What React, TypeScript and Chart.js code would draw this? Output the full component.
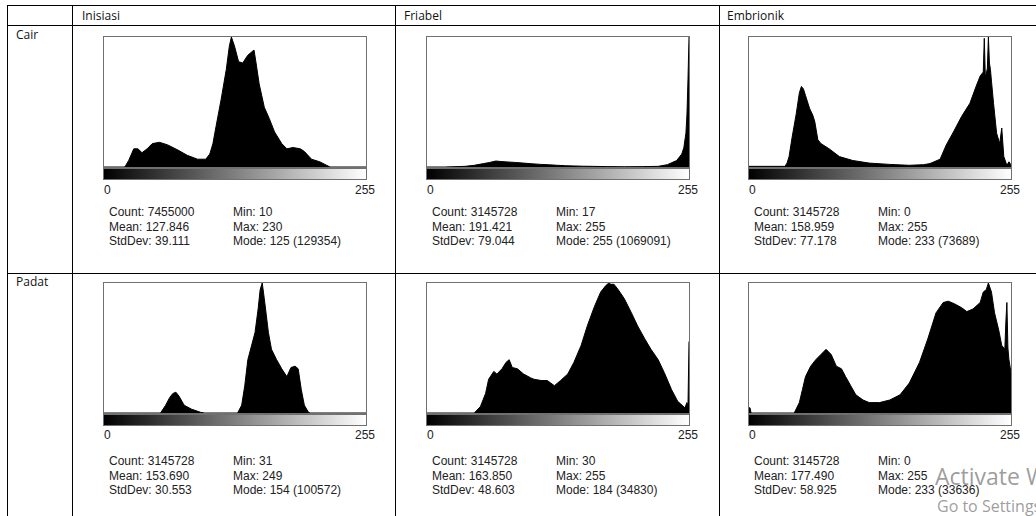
import React, { useEffect, useRef } from 'react';
import { Chart, registerables } from 'chart.js';

Chart.register(...registerables);

const COLUMNS = ['Inisiasi', 'Friabel', 'Embrionik'];
const ROWS = ['Cair', 'Padat'];
const AXIS_MIN_LABEL = '0';
const AXIS_MAX_LABEL = '255';

// Inisiasi – Cair (grey level, height as % of mode count)
const IC_BINS = [0, 20, 21, 24, 29, 33, 37, 42, 47, 54, 62, 72, 81, 91, 99, 103, 106, 109, 114, 119, 122, 124, 127, 131, 135, 140, 146, 148, 151, 156, 161, 166, 173, 178, 184, 191, 195, 202, 210, 215, 220, 255];
const IC_HEIGHT = [0, 0, 1, 5, 14, 14, 11, 14, 18, 19, 17, 13, 9, 6, 6, 10, 18, 31, 52, 75, 93, 100, 93, 81, 80, 86, 90, 80, 64, 46, 37, 27, 18, 14, 15, 14, 12, 6, 4, 2, 0, 0];

// Friabel – Cair
const FC_BINS = [0, 17, 37, 46, 55, 61, 67, 72, 78, 86, 94, 102, 111, 119, 127, 135, 143, 152, 161, 176, 192, 210, 225, 234, 243, 248, 250, 252, 253, 254, 255];
const FC_HEIGHT = [0, 0, 0.5, 1.3, 2.6, 3.5, 4.6, 4.2, 3.9, 3.5, 3, 2.5, 2, 1.7, 1.3, 1, 0.8, 0.6, 0.5, 0.3, 0.2, 0.3, 0.5, 1.8, 5, 10, 15, 26, 40, 67, 100];

// Embrionik – Cair
const EC_BINS = [0, 35, 37, 39, 42, 46, 49, 51, 53, 55, 59, 62, 64, 67, 70, 78, 88, 101, 117, 137, 156, 170, 176, 186, 192, 199, 207, 215, 221, 225, 228, 229, 230, 231, 232, 233, 234, 235, 236, 238, 241, 244, 246, 248, 251, 253, 254, 255];
const EC_HEIGHT = [0.5, 0.5, 3, 8, 23, 41, 57, 62, 60, 55, 45, 40, 35, 21, 18, 14, 8, 5, 3, 2, 1.3, 1.8, 2.6, 6, 17, 27, 39, 49, 62, 70, 73, 99, 70, 72, 76, 100, 80, 75, 66, 49, 26, 18, 30, 8, 1.3, 4, 3, 0];

// Inisiasi – Padat
const IP_BINS = [0, 55, 60, 64, 67, 70, 73, 78, 85, 94, 98, 130, 134, 137, 140, 143, 147, 150, 152, 154, 156, 160, 163, 168, 173, 178, 182, 186, 189, 192, 195, 199, 201, 255];
const IP_HEIGHT = [0, 0, 6, 12, 15, 16, 13, 6, 3, 0.5, 0, 0, 6, 21, 41, 50, 62, 80, 95, 100, 88, 62, 49, 41, 34, 28, 35, 36, 34, 18, 6, 0.5, 0, 0];

// Friabel – Padat
const FP_BINS = [0, 46, 52, 57, 60, 65, 68, 73, 77, 80, 83, 88, 94, 101, 104, 111, 117, 124, 130, 137, 143, 150, 156, 163, 169, 174, 177, 179, 182, 186, 192, 199, 205, 212, 218, 225, 231, 238, 244, 251, 253, 254, 255];
const FP_HEIGHT = [0, 0, 5, 15, 26, 32, 30, 34, 39, 41, 35, 34, 30, 27, 26, 25, 25, 21, 25, 30, 39, 52, 67, 82, 93, 98, 100, 99, 99, 95, 88, 77, 67, 57, 49, 41, 31, 18, 9, 4, 8, 5, 55];

// Embrionik – Padat
const EP_BINS = [0, 1, 2, 3, 44, 49, 52, 55, 60, 65, 70, 75, 80, 85, 90, 94, 99, 104, 111, 117, 127, 137, 147, 156, 166, 174, 182, 189, 194, 200, 207, 212, 218, 225, 228, 231, 233, 236, 239, 243, 246, 249, 250, 251, 252, 253, 255];
const EP_HEIGHT = [4, 4, 0, 0, 0, 8, 18, 28, 36, 41, 45, 49, 45, 36, 34, 28, 21, 14, 10, 8, 8, 10, 14, 23, 39, 57, 77, 85, 86, 84, 81, 78, 80, 85, 93, 95, 100, 93, 77, 64, 52, 49, 70, 85, 50, 41, 31];

// Statistics text per row (Cair, Padat) and column (Inisiasi, Friabel, Embrionik)
const COUNTS = [['7455000', '3145728', '3145728'], ['3145728', '3145728', '3145728']];
const MEANS = [['127.846', '191.421', '158.959'], ['153.690', '163.850', '177.490']];
const STDDEVS = [['39.111', '79.044', '77.178'], ['30.553', '48.603', '58.925']];
const MINS = [['10', '17', '0'], ['31', '30', '0']];
const MAXS = [['230', '255', '255'], ['249', '255', '255']];
const MODES = [['125 (129354)', '255 (1069091)', '233 (73689)'], ['154 (100572)', '184 (34830)', '233 (33636)']];

const SERIES = [
  [[IC_BINS, IC_HEIGHT], [FC_BINS, FC_HEIGHT], [EC_BINS, EC_HEIGHT]],
  [[IP_BINS, IP_HEIGHT], [FP_BINS, FP_HEIGHT], [EP_BINS, EP_HEIGHT]],
];

// layout (pixels)
const BOX_LEFT = [103, 426, 748];
const BOX_TOP = [36, 282];
const LABEL_TOP = [184, 429];
const STATS_TOP = [206, 455];
const STATS_STEP = 14.5;
const ROW_LABEL_TOP = [29, 276];

const STATS_FONT = '"Liberation Sans", Arial, sans-serif';
const TABLE_FONT = '"Open Sans", "Noto Sans", sans-serif';

function Histogram({ bins, heights }: { bins: number[]; heights: number[] }) {
  const ref = useRef<HTMLCanvasElement>(null);
  useEffect(() => {
    const chart = new Chart(ref.current as HTMLCanvasElement, {
      type: 'line',
      data: {
        datasets: [
          {
            data: bins.map((b, i) => ({ x: b, y: heights[i] })),
            fill: 'origin',
            backgroundColor: '#000000',
            borderColor: '#000000',
            borderWidth: 1,
            pointRadius: 0,
            tension: 0,
          },
        ],
      },
      options: {
        animation: false,
        responsive: false,
        devicePixelRatio: 1,
        events: [],
        layout: { padding: 0 },
        plugins: { legend: { display: false }, tooltip: { enabled: false }, title: { display: false } },
        scales: {
          x: { type: 'linear', min: 0, max: 255, display: false },
          y: { type: 'linear', min: 0, max: 100, display: false },
        },
      },
    } as any);
    return () => chart.destroy();
  }, []);
  return <canvas ref={ref} width={262} height={130} style={{ display: 'block' }} />;
}

function Panel({ r, c }: { r: number; c: number }) {
  const left = BOX_LEFT[c];
  const top = BOX_TOP[r];
  const [bins, heights] = SERIES[r][c];
  const txt: React.CSSProperties = {
    position: 'absolute',
    fontFamily: STATS_FONT,
    fontSize: 12,
    lineHeight: '12px',
    color: '#222',
    whiteSpace: 'nowrap',
  };
  const st = STATS_TOP[r];
  return (
    <>
      <div
        style={{
          position: 'absolute',
          left,
          top,
          width: 264,
          height: 132,
          border: '1px solid #707070',
          boxSizing: 'border-box',
          background: '#fff',
        }}
      >
        <Histogram bins={bins} heights={heights} />
      </div>
      <div
        style={{
          position: 'absolute',
          left,
          top: top + 132,
          width: 264,
          height: 12,
          border: '1px solid #707070',
          boxSizing: 'border-box',
          background: 'linear-gradient(to right, #000000, #ffffff)',
        }}
      />
      <div style={{ ...txt, left: left + 1, top: LABEL_TOP[r] }}>{AXIS_MIN_LABEL}</div>
      <div style={{ ...txt, left: left + 212, top: LABEL_TOP[r], width: 60, textAlign: 'right' }}>{AXIS_MAX_LABEL}</div>
      <div style={{ ...txt, left: left + 6, top: st }}>Count: {COUNTS[r][c]}</div>
      <div style={{ ...txt, left: left + 6, top: st + STATS_STEP }}>Mean: {MEANS[r][c]}</div>
      <div style={{ ...txt, left: left + 6, top: st + 2 * STATS_STEP }}>StdDev: {STDDEVS[r][c]}</div>
      <div style={{ ...txt, left: left + 130, top: st }}>Min: {MINS[r][c]}</div>
      <div style={{ ...txt, left: left + 130, top: st + STATS_STEP }}>Max: {MAXS[r][c]}</div>
      <div style={{ ...txt, left: left + 130, top: st + 2 * STATS_STEP }}>Mode: {MODES[r][c]}</div>
    </>
  );
}

export default function App() {
  const line = (l: number, t: number, w: number, h: number, key: string) => (
    <div key={key} style={{ position: 'absolute', left: l, top: t, width: w, height: h, background: '#000' }} />
  );
  const header: React.CSSProperties = {
    position: 'absolute',
    fontFamily: TABLE_FONT,
    fontSize: 12,
    lineHeight: '12px',
    color: '#111',
    whiteSpace: 'nowrap',
  };
  const HEADER_LEFT = [82, 404, 727];
  return (
    <div
      style={{
        position: 'absolute',
        left: 0,
        top: 0,
        width: 1036,
        height: 516,
        overflow: 'hidden',
        background: '#fff',
      }}
    >
      {line(7, 5, 1029, 1, 'h0')}
      {line(7, 25, 1029, 1, 'h1')}
      {line(7, 273, 1029, 1, 'h2')}
      {line(7, 5, 1, 511, 'v0')}
      {line(72, 5, 1, 511, 'v1')}
      {line(395, 5, 1, 511, 'v2')}
      {line(719, 5, 1, 511, 'v3')}
      {COLUMNS.map((c, i) => (
        <div key={c} style={{ ...header, left: HEADER_LEFT[i], top: 10 }}>
          {c}
        </div>
      ))}
      {ROWS.map((r, i) => (
        <div key={r} style={{ ...header, left: 16, top: ROW_LABEL_TOP[i] }}>
          {r}
        </div>
      ))}
      {ROWS.map((_, r) => COLUMNS.map((__, c) => <Panel key={`${r}-${c}`} r={r} c={c} />))}
      <div
        style={{
          position: 'absolute',
          left: 935,
          top: 465,
          fontFamily: TABLE_FONT,
          fontSize: 23,
          lineHeight: '23px',
          color: 'rgba(140,140,140,0.85)',
          whiteSpace: 'nowrap',
        }}
      >
        Activate Windows
      </div>
      <div
        style={{
          position: 'absolute',
          left: 937,
          top: 498,
          fontFamily: TABLE_FONT,
          fontSize: 16,
          lineHeight: '16px',
          color: 'rgba(140,140,140,0.85)',
          whiteSpace: 'nowrap',
        }}
      >
        Go to Settings to activate Windows.
      </div>
    </div>
  );
}
